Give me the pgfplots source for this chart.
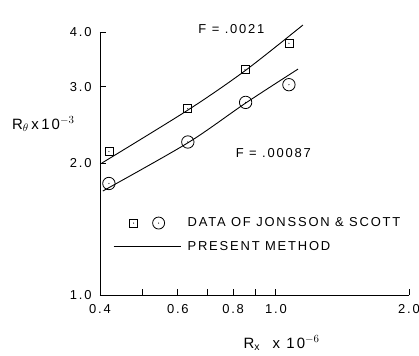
\documentclass[border=0pt]{standalone}
\usepackage{pgfplots}
\pgfplotsset{compat=1.18}
\usepackage{fontspec}
\setmainfont{Liberation Sans}
\newfontfamily\lab[LetterSpace=14]{Liberation Sans}
\newcommand\labfont{\lab\fontsize{13}{15}\selectfont}

% open square and open circle, each with a dot in the middle
\pgfdeclareplotmark{sqdot}{%
  \pgfpathrectangle{\pgfpoint{-\pgfplotmarksize}{-\pgfplotmarksize}}{\pgfpoint{2\pgfplotmarksize}{2\pgfplotmarksize}}%
  \pgfusepathqstroke
  \pgfpathcircle{\pgfpointorigin}{0.6pt}\pgfusepathqfill}
\pgfdeclareplotmark{circdot}{%
  \pgfpathcircle{\pgfpointorigin}{\pgfplotmarksize}\pgfusepathqstroke
  \pgfpathcircle{\pgfpointorigin}{0.6pt}\pgfusepathqfill}

\begin{document}
\begin{tikzpicture}
\path[use as bounding box] (-100bp,-61bp) rectangle (319bp,295bp);
\begin{axis}[
  at={(0,0)}, anchor=south west,
  scale only axis, width=309bp, height=263bp,
  xmode=log, ymode=log,
  xmin=0.4, xmax=2.0, ymin=1.0, ymax=4.0,
  axis x line*=bottom, axis y line*=left,
  axis line style={-, line width=0.9bp},
  tick style={line width=0.9bp, black},
  tick align=inside,
  major tick length=6bp,
  xtick={0.4,0.5,0.6,0.7,0.8,0.9,1.0,2.0},
  xticklabels={0.4,,0.6,,0.8,,1.0,2.0},
  ytick={1,2,3,4},
  yticklabels={1.0,2.0,3.0,4.0},
  minor xtick={}, minor ytick={},
  /pgf/number format/assume math mode=true,
  tick label style={font=\labfont},
  xticklabel style={yshift=-6bp},
  yticklabel style={xshift=-5bp},
  clip=false,
  legend style={draw=none, fill=none, at={(rel axis cs:0.042,0.302)},
    anchor=north west, inner sep=0pt, row sep=9bp,
    font=\labfont},
  legend cell align=left,
]
% measured points
\addplot[only marks, mark=sqdot, mark size=4bp, line width=0.8bp, forget plot]
  coordinates {(0.419,2.13) (0.632,2.67) (0.851,3.28) (1.07,3.77)};
\addplot[only marks, mark=circdot, mark size=6.2bp, line width=0.8bp, forget plot]
  coordinates {(0.419,1.80) (0.632,2.24) (0.854,2.76) (1.07,3.03)};
% computed curves
\addplot[smooth, line width=0.9bp, forget plot]
  coordinates {(0.404,2.005) (0.632,2.65) (0.851,3.26) (1.151,4.15)};
\addplot[smooth, line width=0.9bp, forget plot]
  coordinates {(0.406,1.73) (0.632,2.23) (0.854,2.75) (1.122,3.29)};

\addlegendimage{legend image code/.code={
  \path[draw=none] (0bp,0bp) -- (72bp,0bp);
  \path[draw=black, line width=0.8bp] plot[only marks, mark=sqdot, mark size=4bp] coordinates {(20bp,0bp)};
  \path[draw=black, line width=0.8bp] plot[only marks, mark=circdot, mark size=6bp] coordinates {(45bp,0bp)};}}
\addlegendentry{DATA OF JONSSON \& SCOTT}
\addlegendimage{legend image code/.code={
  \draw[line width=0.9bp] (0bp,0bp) -- (67bp,0bp);
  \path[draw=none] (72bp,0bp);}}
\addlegendentry{PRESENT METHOD}

\node[anchor=west, font=\labfont] at (axis cs:0.656,4.06) {F = .0021};
\node[anchor=west, font=\labfont] at (axis cs:0.797,2.11) {F = .00087};
\node[anchor=east, font=\lab\fontsize{15}{17}\selectfont] at (axis cs:0.4,2.46) [xshift=-22bp] {R$_\theta$\,x\,10$^{-3}$};
\node[anchor=base west, font=\lab\fontsize{15}{17}\selectfont] at (axis cs:0.83,1) [yshift=-53bp] {R$_\mathrm{x}$\ \ x 10$^{-6}$};
\end{axis}
\end{tikzpicture}
\end{document}
